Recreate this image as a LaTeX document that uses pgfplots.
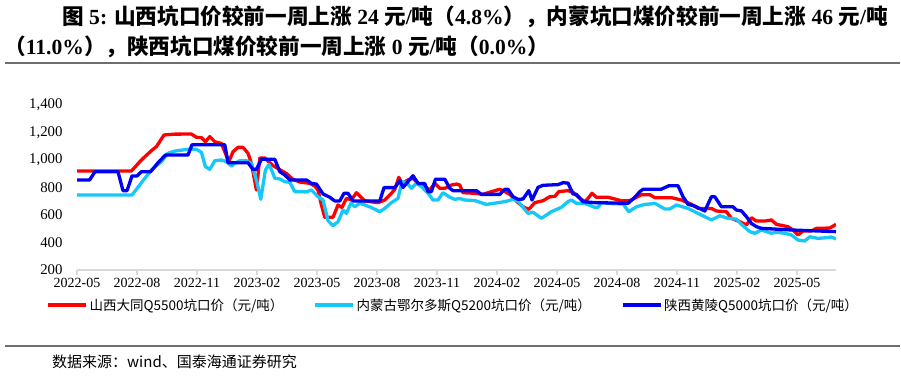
\documentclass[border=0pt]{standalone}
\usepackage{fontspec}
\setmainfont{Liberation Serif}
\newfontfamily\cjk{Noto Sans CJK SC}
\usepackage{pgfplots}
\pgfplotsset{compat=1.18}
\definecolor{cred}{RGB}{255,0,0}
\definecolor{clb}{RGB}{20,200,250}
\definecolor{cblue}{RGB}{0,0,245}
\definecolor{rulegray}{RGB}{110,110,110}
\definecolor{axgray}{RGB}{217,217,217}

\pgfplotstableread{
m v
0 920
2.72 920
3.22 1000
3.72 1068
3.97 1097
4.35 1182
4.89 1188
5.72 1189
5.97 1165
6.22 1163
6.42 1133
6.64 1170
6.89 1133
7.22 1121
7.59 988
7.80 1060
8.05 1092
8.30 1092
8.55 1049
8.72 976
8.97 782
9.14 1015
9.39 1015
9.79 960
10.14 930
10.49 900
10.79 860
11.14 840
11.64 830
11.89 810
12.05 780
12.22 673
12.39 583
12.80 583
13.05 673
13.25 655
13.47 721
13.72 710
13.97 762
14.39 702
15.05 690
15.39 709
15.72 758
15.89 787
16.09 874
16.25 830
16.55 855
16.80 867
17.05 830
17.39 806
17.64 782
17.89 830
18.14 794
18.39 794
18.72 818
18.97 825
19.14 818
19.30 762
19.89 758
20.30 750
20.72 770
21.14 787
21.39 770
21.64 750
22.05 690
22.30 660
22.59 641
22.89 690
23.30 704
23.64 733
23.89 735
24.09 770
24.55 777
24.80 765
25.14 721
25.39 697
25.55 721
25.75 758
25.97 729
26.55 729
27.22 704
27.64 704
27.97 729
28.22 748
28.64 748
28.89 726
29.72 726
30.22 709
30.72 678
31.05 648
31.72 648
31.97 629
32.47 624
32.72 576
33.14 551
33.47 527
33.72 580
33.97 556
34.39 556
34.72 564
34.97 532
35.55 515
35.80 491
36.05 455
36.30 484
36.72 484
36.97 503
37.64 505
37.95 532
}\shanxi

\pgfplotstableread{
m v
0 745
2.75 745
3.22 835
3.72 927
4.22 988
4.55 1049
4.89 1065
5.55 1078
5.97 1078
6.22 1056
6.42 952
6.64 932
6.89 995
7.22 1000
7.47 988
7.72 956
7.89 976
8.14 995
8.47 995
8.72 976
8.97 855
9.19 714
9.42 927
9.60 968
9.75 920
9.89 867
10.14 862
10.39 842
10.64 838
10.89 770
11.47 768
11.72 782
12.05 733
12.30 709
12.55 559
12.80 522
13.05 551
13.30 636
13.47 612
13.69 685
13.89 660
14.14 685
14.39 673
14.72 654
15.14 624
15.39 648
15.72 690
16.05 721
16.25 842
16.47 838
16.72 794
16.97 830
17.22 806
17.55 758
17.80 709
18.05 709
18.30 762
18.64 729
18.89 714
19.14 720
19.39 709
19.89 705
20.47 677
21.39 697
21.80 714
22.05 700
22.55 612
22.80 620
23.22 576
23.72 624
24.22 656
24.55 697
24.72 709
24.97 685
25.39 685
25.89 656
26.05 656
26.22 690
26.72 683
27.30 680
27.59 624
27.97 660
28.39 677
28.64 680
28.89 685
29.39 644
29.64 644
29.97 673
30.55 648
31.05 612
31.72 564
32.14 595
32.55 576
32.97 570
33.22 532
33.64 479
33.89 467
34.22 491
34.72 467
34.97 475
35.39 467
35.72 455
36.05 418
36.39 411
36.64 442
37.05 430
37.47 435
37.72 440
37.95 425
}\neimeng

\pgfplotstableread{
m v
0 855
0.63 855
0.90 915
2.05 915
2.30 777
2.50 777
2.75 884
3.00 884
3.22 915
3.68 915
4.05 980
4.42 1036
5.55 1036
5.75 1111
7.39 1111
7.55 980
8.55 980
8.80 932
8.97 932
9.22 1005
9.89 1005
10.14 915
10.39 891
10.64 855
11.47 855
11.72 830
11.97 825
12.30 753
12.64 729
12.89 702
13.14 702
13.35 758
13.55 758
13.80 702
15.14 702
15.35 799
15.89 799
16.14 850
16.30 800
16.80 886
17.05 830
17.39 828
17.55 770
17.72 770
17.92 860
18.39 860
18.64 794
18.80 777
19.97 777
20.22 750
21.14 750
21.39 787
21.55 787
21.80 733
22.05 714
22.30 716
22.59 777
22.75 709
23.05 801
23.30 816
24.05 821
24.30 835
24.55 832
24.80 753
24.97 750
25.30 697
25.89 690
27.55 685
27.89 729
28.14 770
28.30 787
29.20 787
29.60 813
30.05 813
30.30 733
30.55 678
30.89 665
31.39 629
31.55 680
31.72 733
31.89 733
32.22 660
32.80 660
32.97 636
33.22 630
33.47 588
33.72 539
33.97 515
34.22 503
35.72 491
37.95 479
}\shaanxi

\begin{document}
\begin{tikzpicture}[x=1pt,y=1pt]
\useasboundingbox (0pt,0pt) rectangle (901pt,-377pt);
\node[anchor=west,inner sep=0pt] at (62pt,-17pt) {\fontsize{21.6}{21.6}\selectfont\bfseries {\cjk 图} 5: {\cjk 山西坑口价较前一周上涨} 24 {\cjk 元}/{\cjk 吨（}4.8\%{\cjk ），内蒙坑口煤价较前一周上涨} 46 {\cjk 元}/{\cjk 吨}};
\node[anchor=west,inner sep=0pt] at (4pt,-47pt) {\fontsize{21.6}{21.6}\selectfont\bfseries {\cjk （}11.0\%{\cjk ），陕西坑口煤价较前一周上涨} 0 {\cjk 元}/{\cjk 吨（}0.0\%{\cjk ）}};
\draw[rulegray,line width=1.5pt] (5pt,-63pt) -- (900pt,-63pt);
\draw[rulegray,line width=1.5pt] (5pt,-346pt) -- (900pt,-346pt);
\node[anchor=west,inner sep=0pt] at (52pt,-362pt) {\fontsize{15}{15}\selectfont\cjk 数据来源：wind、国泰海通证券研究};

\begin{axis}[
  at={(77pt,-270pt)}, anchor=south west,
  scale only axis, width=759pt, height=165pt,
  xmin=0, xmax=37.95, ymin=200, ymax=1400,
  axis x line*=bottom, axis y line*=left,
  x axis line style={-, draw=axgray, line width=1.5pt},
  y axis line style={draw=none},
  ytick={200,400,...,1400},
  xtick={0,3,...,36},
  xticklabels={2022-05,2022-08,2022-11,2023-02,2023-05,2023-08,2023-11,2024-02,2024-05,2024-08,2024-11,2025-02,2025-05},
  tick align=outside, major tick length=5pt,
  xtick style={draw=axgray, line width=1.2pt},
  ytick style={draw=none},
  xticklabel style={font=\fontsize{14}{14}\selectfont},
  yticklabel style={font=\fontsize{14.8}{14.8}\selectfont, xshift=-6pt},
  /pgf/number format/assume math mode=true,
  /pgf/number format/1000 sep={,},
  legend columns=3,
  legend style={at={(-0.0408,-0.212)}, anchor=west, draw=none, fill=none, inner sep=0pt,
    font=\cjk\fontsize{13.5}{14}\selectfont,
    /tikz/every even column/.append style={column sep=28pt}},
  legend image code/.code={\draw[line width=3.3pt] (0pt,0pt) -- (38pt,0pt);},
  every axis plot/.append style={line width=3.3pt, line join=round},
]
\addplot[cred] table[x=m,y=v] {\shanxi};
\addlegendentry{山西大同Q5500坑口价（元/吨）}
\addplot[clb] table[x=m,y=v] {\neimeng};
\addlegendentry{内蒙古鄂尔多斯Q5200坑口价（元/吨）}
\addplot[cblue] table[x=m,y=v] {\shaanxi};
\addlegendentry{陕西黄陵Q5000坑口价（元/吨）}
\end{axis}
\end{tikzpicture}
\end{document}
